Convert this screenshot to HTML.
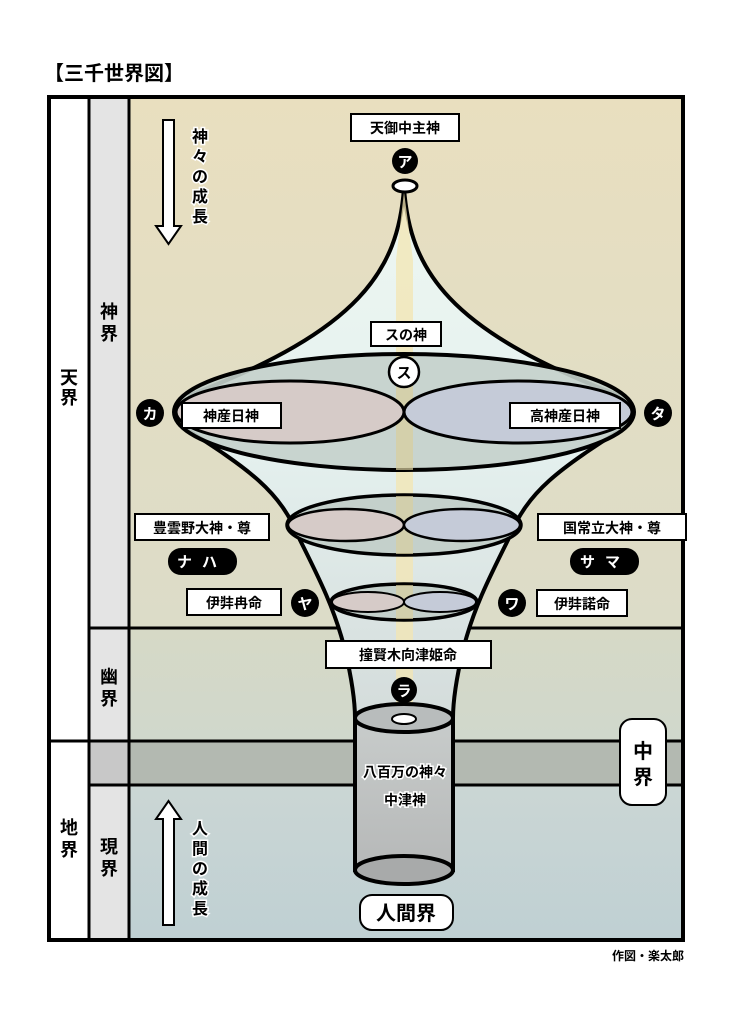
<!DOCTYPE html>
<html><head><meta charset="utf-8"><style>
html,body{margin:0;padding:0;background:#fff;}
svg{display:block;}
text{font-family:"Liberation Sans","Noto Sans CJK JP",sans-serif;font-weight:bold;}
</style></head><body>
<svg width="752" height="1024" viewBox="0 0 752 1024" xmlns="http://www.w3.org/2000/svg">
<defs>
<linearGradient id="gTop" x1="0" y1="0" x2="0" y2="1"><stop offset="0" stop-color="#e9dfbf"/><stop offset="1" stop-color="#dcdcc8"/></linearGradient>
<linearGradient id="gYu" x1="0" y1="0" x2="0" y2="1"><stop offset="0" stop-color="#d6d9c6"/><stop offset="1" stop-color="#d0d8cc"/></linearGradient>
<linearGradient id="gGen" x1="0" y1="0" x2="0" y2="1"><stop offset="0" stop-color="#cbd6d4"/><stop offset="1" stop-color="#bfd0d3"/></linearGradient>
<linearGradient id="gFun" x1="0" y1="0" x2="0" y2="1"><stop offset="0" stop-color="#eef7f2"/><stop offset="0.5" stop-color="#e4f0ee"/><stop offset="1" stop-color="#d4dcdb"/></linearGradient>
<linearGradient id="gCyl" x1="0" y1="0" x2="0" y2="1"><stop offset="0" stop-color="#c8cccb"/><stop offset="1" stop-color="#b6b8b8"/></linearGradient>
</defs>
<text x="44" y="80" font-size="20">【三千世界図】</text>
<rect x="129" y="97" width="554" height="531" fill="url(#gTop)"/>
<rect x="129" y="628" width="554" height="113" fill="url(#gYu)"/>
<rect x="129" y="741" width="554" height="44" fill="#b3b9b1"/>
<rect x="129" y="785" width="554" height="155" fill="url(#gGen)"/>
<rect x="49" y="97" width="40" height="843" fill="#fff"/>
<rect x="89" y="97" width="40" height="843" fill="#e4e4e4"/>
<rect x="89" y="741" width="40" height="44" fill="#c8c8c8"/>
<g stroke="#000" stroke-width="3" fill="none">
<line x1="89" y1="628" x2="683" y2="628"/>
<line x1="49" y1="741" x2="683" y2="741"/>
<line x1="89" y1="785" x2="683" y2="785"/>
</g>
<path d="M404,188 C398,270 360,330 190,395 L180,425 C250,470 280,490 300,540 C320,580 335,610 345,650 C352,680 355,700 355,718 L453,718 C453,700 456,680 463,650 C473,610 488,580 508,540 C528,490 558,470 628,425 L618,395 C448,330 410,270 404,188 Z" fill="url(#gFun)" stroke="#000" stroke-width="4" stroke-linejoin="round"/>
<path d="M404,192 L396,260 L396,718 L413,718 L413,260 Z" fill="#f3e6b2" opacity="0.75"/>
<ellipse cx="404" cy="412" rx="230" ry="58" fill="#c4d0cb" fill-opacity="0.9" stroke="#000" stroke-width="4"/>
<rect x="396" y="356" width="17" height="114" fill="#d8cf9e" opacity="0.7"/>
<ellipse cx="290" cy="412" rx="114" ry="31" fill="#d6cbc8" stroke="#000" stroke-width="3"/>
<ellipse cx="518" cy="412" rx="114" ry="31" fill="#c5cbd8" stroke="#000" stroke-width="3"/>
<ellipse cx="404" cy="525" rx="117" ry="30" fill="#c4d0cb" stroke="#000" stroke-width="3.5"/>
<rect x="396" y="496" width="17" height="58" fill="#d8cf9e" opacity="0.7"/>
<ellipse cx="346" cy="525" rx="58" ry="16" fill="#d6cbc8" stroke="#000" stroke-width="2.5"/>
<ellipse cx="462" cy="525" rx="58" ry="16" fill="#c5cbd8" stroke="#000" stroke-width="2.5"/>
<ellipse cx="404" cy="602" rx="73" ry="18" fill="#c4d0cb" stroke="#000" stroke-width="3.5"/>
<rect x="396" y="585" width="17" height="34" fill="#d8cf9e" opacity="0.7"/>
<ellipse cx="368" cy="602" rx="36" ry="10" fill="#d6cbc8" stroke="#000" stroke-width="2"/>
<ellipse cx="440" cy="602" rx="36" ry="10" fill="#c5cbd8" stroke="#000" stroke-width="2"/>
<rect x="355" y="718" width="98" height="152" fill="url(#gCyl)" stroke="#000" stroke-width="4"/>
<ellipse cx="404" cy="870" rx="49" ry="14" fill="#a8aaaa" stroke="#000" stroke-width="4"/>
<ellipse cx="404" cy="718" rx="49" ry="14" fill="#b8bcbc" stroke="#000" stroke-width="4"/>
<ellipse cx="404" cy="719" rx="12" ry="5" fill="#fff" stroke="#000" stroke-width="2"/>
<g stroke="#000" stroke-width="3" fill="none">
<line x1="89" y1="97" x2="89" y2="940"/><line x1="129" y1="97" x2="129" y2="940"/>
<rect x="49" y="97" width="634" height="843" stroke-width="4"/>
</g>
<ellipse cx="405" cy="186" rx="12" ry="6" fill="#fff" stroke="#000" stroke-width="3"/>
<g font-size="14" text-anchor="middle">
<rect x="351" y="114" width="108" height="27" fill="#fff" stroke="#000" stroke-width="2"/>
<text x="405" y="133">天御中主神</text>
<rect x="371" y="322" width="70" height="24" fill="#fff" stroke="#000" stroke-width="2"/>
<text x="406" y="340">スの神</text>
<rect x="182" y="403" width="99" height="25" fill="#fff" stroke="#000" stroke-width="2"/>
<text x="231" y="421">神産日神</text>
<rect x="510" y="403" width="110" height="25" fill="#fff" stroke="#000" stroke-width="2"/>
<text x="565" y="421">高神産日神</text>
<rect x="135" y="514" width="134" height="26" fill="#fff" stroke="#000" stroke-width="2"/>
<text x="202" y="533">豊雲野大神・尊</text>
<rect x="538" y="514" width="148" height="26" fill="#fff" stroke="#000" stroke-width="2"/>
<text x="612" y="533">国常立大神・尊</text>
<rect x="187" y="589" width="94" height="26" fill="#fff" stroke="#000" stroke-width="2"/>
<text x="234" y="608">伊弉冉命</text>
<rect x="537" y="590" width="90" height="26" fill="#fff" stroke="#000" stroke-width="2"/>
<text x="582" y="609">伊弉諾命</text>
<rect x="326" y="641" width="165" height="27" fill="#fff" stroke="#000" stroke-width="2"/>
<text x="408" y="660">撞賢木向津姫命</text>
</g>
<g font-size="15" text-anchor="middle">
<circle cx="405" cy="161" r="13" fill="#000"/><text x="405" y="167" fill="#fff">ア</text>
<circle cx="404" cy="372" r="15" fill="#fff" stroke="#000" stroke-width="2.5"/><text x="404" y="378">ス</text>
<circle cx="150" cy="413" r="14" fill="#000"/><text x="150" y="419" fill="#fff">カ</text>
<circle cx="658" cy="413" r="14" fill="#000"/><text x="658" y="419" fill="#fff">タ</text>
<circle cx="305" cy="603" r="14" fill="#000"/><text x="305" y="609" fill="#fff">ヤ</text>
<circle cx="512" cy="603" r="14" fill="#000"/><text x="512" y="609" fill="#fff">ワ</text>
<circle cx="404" cy="690" r="13" fill="#000"/><text x="404" y="696" fill="#fff">ラ</text>
<rect x="168" y="548" width="69" height="27" rx="13" fill="#000"/><text x="202" y="567" fill="#fff" letter-spacing="10">ナハ</text>
<rect x="570" y="548" width="69" height="27" rx="13" fill="#000"/><text x="605" y="567" fill="#fff" letter-spacing="10">サマ</text>
</g>
<rect x="620" y="719" width="46" height="86" rx="12" fill="#fff" stroke="#000" stroke-width="2"/>
<text x="643" y="758" font-size="20" text-anchor="middle">中</text>
<text x="643" y="784" font-size="20" text-anchor="middle">界</text>
<g font-size="14" text-anchor="middle" stroke="#fff" stroke-width="3" paint-order="stroke">
<text x="405" y="777">八百万の神々</text>
<text x="405" y="805">中津神</text>
</g>
<rect x="360" y="895" width="93" height="35" rx="12" fill="#fff" stroke="#000" stroke-width="2"/>
<text x="406" y="920" font-size="20" text-anchor="middle">人間界</text>
<g font-size="18" text-anchor="middle">
<text x="69" y="384">天</text><text x="69" y="404">界</text>
<text x="109" y="318">神</text><text x="109" y="340">界</text>
<text x="109" y="683">幽</text><text x="109" y="705">界</text>
<text x="69" y="834">地</text><text x="69" y="856">界</text>
<text x="109" y="853">現</text><text x="109" y="875">界</text>
</g>
<path d="M163,120 L174,120 L174,226 L181,226 L168.5,244 L156,226 L163,226 Z" fill="#fff" stroke="#000" stroke-width="2"/>
<path d="M163,925 L174,925 L174,819 L181,819 L168.5,801 L156,819 L163,819 Z" fill="#fff" stroke="#000" stroke-width="2"/>
<g font-size="16" text-anchor="middle" stroke="#fff" stroke-width="3" paint-order="stroke">
<text x="200" y="142">神</text><text x="200" y="162">々</text><text x="200" y="182">の</text><text x="200" y="202">成</text><text x="200" y="222">長</text>
<text x="200" y="834">人</text><text x="200" y="854">間</text><text x="200" y="874">の</text><text x="200" y="894">成</text><text x="200" y="914">長</text>
</g>
<text x="684" y="960" font-size="12" text-anchor="end">作図・楽太郎</text>
</svg>
</body></html>
